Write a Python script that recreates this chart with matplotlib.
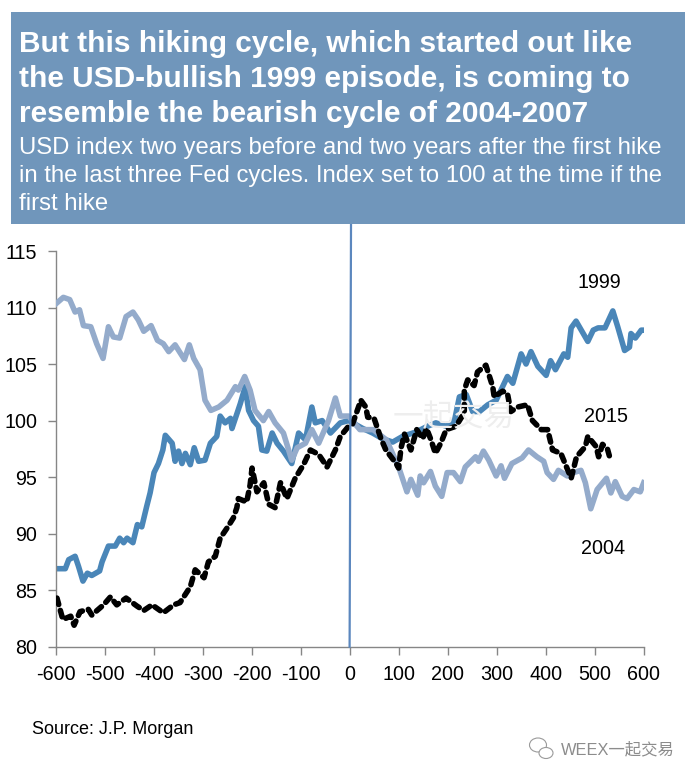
import matplotlib
matplotlib.use('Agg')
import matplotlib.pyplot as plt
from matplotlib.patches import Rectangle, Ellipse

plt.rcParams['font.family'] = ['Liberation Sans', 'Noto Sans CJK SC', 'DejaVu Sans']
plt.rcParams['axes.unicode_minus'] = False

# значения
x_1999 = [-600, -580, -573, -560, -553, -544, -535, -526, -510, -505, -492, -478, -469, -461, -454, -442, -433, -424,
          -414, -407, -399, -390, -381, -376, -362, -356, -349, -342, -335, -325, -317, -308, -295, -284, -271, -264,
          -254, -243, -240, -223, -213, -206, -196, -186, -179, -169, -158, -148, -135, -118, -104, -90, -77, -70,
          -56, -39, -19, -2, 27, 47, 67, 88, 108, 136, 159, 176, 197, 214, 224, 238, 251, 265, 282, 299, 322, 333,
          350, 360, 370, 384, 401, 410, 420, 437, 445, 452, 462, 486, 497, 507, 521, 537, 547, 561, 571, 574, 583,
          595, 600]
y_1999 = [86.9, 86.9, 87.7, 88, 87.1, 85.8, 86.5, 86.3, 86.7, 87.5, 88.9, 88.9, 89.6, 89.2, 89.6, 89.2, 90.8, 90.6,
          92.4, 93.6, 95.4, 96.2, 97.4, 98.7, 98, 96.4, 97.3, 96.2, 97.1, 96.1, 97.6, 96.4, 96.5, 98, 98.6, 100.4,
          99.8, 100.2, 99.3, 101.5, 103, 100.9, 100, 99.5, 97.4, 97.3, 98.9, 98, 97.3, 96.2, 98.9, 98.3, 101.2, 99.8,
          100, 98.9, 99.8, 100, 99.3, 98.9, 98.4, 98.1, 98.6, 99, 99.5, 99.8, 99.5, 100, 102.1, 102.3, 100.8, 100.8,
          101.4, 101.8, 103.9, 103.3, 105.9, 105, 106.1, 104.8, 104, 105.3, 104.5, 105.9, 105.6, 108.2, 108.8, 107,
          108, 108.2, 108.2, 109.7, 108.3, 106.2, 106.5, 107.7, 107.3, 108, 108]

x_2004 = [-600, -584, -571, -560, -551, -543, -528, -516, -503, -492, -482, -469, -456, -442, -431, -420, -405, -392,
          -380, -369, -356, -337, -327, -318, -305, -295, -283, -267, -250, -233, -227, -214, -203, -193, -176, -165,
          -152, -135, -118, -107, -90, -77, -63, -43, -29, -19, -2, 21, 48, 75, 100, 117, 125, 139, 144, 151, 165,
          175, 188, 199, 212, 226, 236, 257, 263, 273, 284, 299, 309, 316, 331, 352, 365, 382, 396, 403, 416, 426,
          444, 457, 472, 481, 492, 505, 524, 533, 542, 556, 566, 580, 593, 600]
y_2004 = [110.3, 110.9, 110.7, 109.6, 109.8, 108.4, 108.3, 106.8, 105.5, 108.3, 107.4, 107.3, 109.2, 109.6, 108.9,
          107.9, 108.4, 107.1, 106.8, 106.1, 106.7, 105.4, 106.7, 105.5, 104.5, 101.8, 100.9, 101.2, 101.8, 103,
          102.7, 103.9, 102.7, 100.9, 100, 100.8, 99.8, 98.9, 96.5, 97.6, 98, 99.2, 98, 100, 102, 100.4, 100.4, 99.2,
          99.2, 98.3, 95.9, 93.7, 94.8, 93.4, 95.1, 94.5, 95.5, 94.2, 93.3, 95.4, 95.4, 94.6, 95.9, 96.8, 96.4, 97.3,
          96.5, 95.1, 96, 94.9, 96.2, 96.7, 97.4, 96.8, 96.4, 95.4, 94.8, 95.6, 95.1, 95.4, 95.6, 94.5, 92.2, 93.9,
          94.9, 93.6, 94.6, 93.3, 93.1, 93.9, 93.7, 94.5]

x_2015 = [-597, -585, -569, -562, -550, -533, -526, -502, -488, -475, -456, -434, -420, -403, -380, -359, -346, -325,
          -315, -297, -288, -274, -264, -250, -237, -230, -227, -210, -203, -199, -189, -175, -165, -152, -141, -128,
          -111, -94, -80, -63, -46, -29, -19, -2, 6, 23, 33, 37, 50, 64, 74, 95, 100, 105, 112, 125, 137, 149, 157,
          166, 175, 186, 197, 217, 234, 234, 241, 254, 261, 278, 292, 295, 312, 322, 329, 343, 363, 373, 391, 404,
          414, 431, 452, 463, 481, 486, 503, 508, 516, 526, 533]
y_2015 = [84.3, 82.4, 82.7, 81.9, 83.1, 83.3, 82.8, 83.7, 84.4, 83.7, 84.3, 83.6, 83.2, 83.7, 83, 83.7, 83.9, 85.3,
          86.8, 86.1, 87.5, 88, 89.6, 90.5, 91.4, 92.3, 93.1, 92.8, 94.3, 95.8, 93.7, 94.5, 92.6, 92.3, 94.5, 93.1,
          94.9, 96.1, 97.4, 97, 95.9, 97.4, 98.6, 99.5, 99.7, 101.8, 101.2, 100.3, 100.2, 98.4, 97.4, 96.2, 95.8,
          97.6, 98.8, 97.4, 99.2, 98.4, 99.3, 98.3, 97.1, 98, 99.2, 99.5, 100.7, 102.7, 103.6, 103.1, 104.3, 104.9,
          103, 102.1, 102.6, 102.4, 100.8, 101.2, 101.4, 100, 99.2, 99.2, 97.4, 97.1, 94.9, 96.8, 97.7, 98.6, 97.7,
          96.8, 97.9, 97.5, 96.4]

x_ticks = [-600, -500, -400, -300, -200, -100, 0, 100, 200, 300, 400, 500, 600]
y_ticks = [80, 85, 90, 95, 100, 105, 110, 115]

title_lines = ['But this hiking cycle, which started out like',
               'the USD-bullish 1999 episode, is coming to',
               'resemble the bearish cycle of 2004-2007']
sub_lines = ['USD index two years before and two years after the first hike',
             'in the last three Fed cycles. Index set to 100 at the time if the',
             'first hike']

W, H = 696, 782
fig = plt.figure(figsize=(W / 100, H / 100), dpi=100)

# плашка с заголовком
fig.patches.append(Rectangle((11 / W, 1 - 224 / H), 674 / W, 212 / H, transform=fig.transFigure,
                             facecolor='#7096BB', edgecolor='none'))
for i, line in enumerate(title_lines):
    fig.text(19 / W, 1 - (44 + i * 35) / H, line, color='white', fontsize=21.5, fontweight='bold', va='center')
for i, line in enumerate(sub_lines):
    fig.text(19 / W, 1 - (148 + i * 28) / H, line, color='white', fontsize=17.2, va='center')

ax = fig.add_axes([55.5 / W, 1 - 646.7 / H, 588.2 / W, 395.7 / H])
ax.plot(x_1999, y_1999, color='#4A86B8', lw=4.0, solid_joinstyle='round', zorder=2)
ax.plot(x_2004, y_2004, color='#94ABCB', lw=4.0, solid_joinstyle='round', zorder=3)
ax.plot(x_2015, y_2015, color='black', lw=4.0, linestyle=(0, (1.2, 1.1)), dash_capstyle='round', zorder=4)
# вертикальная линия первого повышения ставки
ax.plot([3, 0, 0], [118.9, 80, 80], color='#5B87BE', lw=1.6, clip_on=False, zorder=5)

ax.set_xlim(-600, 600)
ax.set_ylim(80, 115)
ax.set_xticks(x_ticks)
ax.set_yticks(y_ticks)
ax.spines['top'].set_visible(False)
ax.spines['right'].set_visible(False)
for s in ['left', 'bottom']:
    ax.spines[s].set_color('#868686')
    ax.spines[s].set_linewidth(1)
ax.tick_params(colors='#868686', length=6, width=1, direction='out', labelsize=14.2, labelcolor='black', pad=7)

ax.text(510, 112.2, '1999', fontsize=14.2, ha='center', va='center')
ax.text(523, 100.4, '2015', fontsize=14.2, ha='center', va='center')
ax.text(518, 88.7, '2004', fontsize=14.2, ha='center', va='center')

# водяные знаки
fig.text(393 / W, 1 - 418 / H, '一起交易', color='#eeeeee', fontsize=22, va='center', zorder=1)
fig.text(32 / W, 1 - 730 / H, 'Source: J.P. Morgan', fontsize=13, va='center')
fig.text(561 / W, 1 - 750 / H, 'WEEX一起交易', color='#8c8c8c', fontsize=11.8, va='center')
for cx, cy, ew, eh in [(538, 745, 17, 14), (546, 753, 14, 11)]:
    fig.patches.append(Ellipse((cx / W, 1 - cy / H), ew / W, eh / H, transform=fig.transFigure,
                               facecolor='white', edgecolor='#9a9a9a', lw=0.8))

fig.savefig('out.png', dpi=100)
